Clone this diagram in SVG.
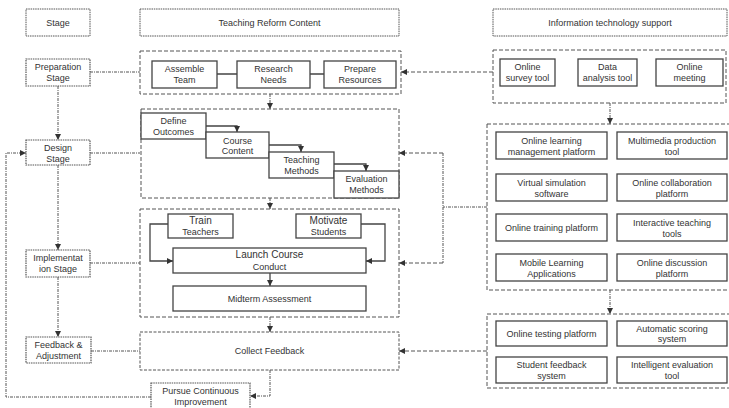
<svg xmlns="http://www.w3.org/2000/svg" width="729" height="408" viewBox="0 0 729 408">
<defs>
<style>
text{font-family:"Liberation Sans","Noto Sans",sans-serif;font-size:9px;fill:#333;text-anchor:middle}
.hdr{fill:#fff;stroke:#555;stroke-width:1;stroke-dasharray:1.5,0.8}
.stg{fill:#fff;stroke:#555;stroke-width:1.2;stroke-dasharray:1.5,0.8}
.box{fill:#fff;stroke:#444;stroke-width:1.3}
.grp{fill:none;stroke:#555;stroke-width:1;stroke-dasharray:4,2}
.grp2{fill:none;stroke:#555;stroke-width:1;stroke-dasharray:3,1.5}
.c{fill:none;stroke:#555;stroke-width:1;stroke-dasharray:3,1,1,1}
.cd{fill:none;stroke:#555;stroke-width:1;stroke-dasharray:4,2}
.s{fill:none;stroke:#444;stroke-width:1.3}
.big{font-size:10px}
</style>
<marker id="a" viewBox="0 0 10 10" refX="10" refY="5" markerWidth="6" markerHeight="6" orient="auto" markerUnits="userSpaceOnUse">
<path d="M0,0 L10,5 L0,10 z" fill="#333"/>
</marker>
</defs>

<g id="connectors">
<path class="c" d="M58,86 V140" marker-end="url(#a)"/>
<path class="c" d="M58,165 V250" marker-end="url(#a)"/>
<path class="c" d="M58,277 V337" marker-end="url(#a)"/>
<path class="c" d="M90,72 H140"/>
<path class="c" d="M90,153 H140"/>
<path class="c" d="M90,263 H140"/>
<path class="c" d="M91,351 H140"/>
<path class="c" d="M151,397 H6 V153 H26" marker-end="url(#a)"/>
<path class="c" d="M270,94 V109" marker-end="url(#a)"/>
<path class="c" d="M270,198 V209" marker-end="url(#a)"/>
<path class="c" d="M270,317 V332" marker-end="url(#a)"/>
<path class="c" d="M270,370 V396 H250" marker-end="url(#a)"/>
<path class="s" d="M206,126 H237 V132" marker-end="url(#a)"/>
<path class="s" d="M269,145 H301 V152" marker-end="url(#a)"/>
<path class="s" d="M334,164 H366 V171" marker-end="url(#a)"/>
<path class="s" d="M168,224 H150 V261 H173" marker-end="url(#a)"/>
<path class="s" d="M361,224 H385 V261 H366" marker-end="url(#a)"/>
<path class="s" d="M270,273 V286" marker-end="url(#a)"/>
<path class="s" d="M217,74 H237 M310,74 H324"/>
<path class="cd" d="M493,72 H401" marker-end="url(#a)"/>
<path class="c" d="M610,103 V124" marker-end="url(#a)"/>
<path class="c" d="M610,290 V314" marker-end="url(#a)"/>
<path class="c" d="M487,207 H443"/>
<path class="c" d="M443,153 V263"/>
<path class="cd" d="M443,153 H399" marker-end="url(#a)"/>
<path class="cd" d="M443,263 H399" marker-end="url(#a)"/>
<path class="cd" d="M487,351 H399" marker-end="url(#a)"/>
</g>

<g id="header-stage"><rect class="hdr" x="26" y="9" width="64" height="27"/><text x="58" y="26">Stage</text></g>
<g id="header-content"><rect class="hdr" x="140" y="9" width="259" height="27"/><text x="269.5" y="26">Teaching Reform Content</text></g>
<g id="header-it"><rect class="hdr" x="493" y="9" width="234" height="27"/><text x="610" y="26">Information technology support</text></g>

<g id="stage-prep"><rect class="stg" x="26" y="59" width="64" height="27"/><text x="58" y="70">Preparation</text><text x="58" y="81">Stage</text></g>
<g id="stage-design"><rect class="stg" x="26" y="140" width="64" height="25"/><text x="58" y="151">Design</text><text x="58" y="162">Stage</text></g>
<g id="stage-impl"><rect class="stg" x="26" y="250" width="64" height="27"/><text x="58" y="261">Implementat</text><text x="58" y="272">ion Stage</text></g>
<g id="stage-feedback"><rect class="stg" x="26" y="337" width="65" height="26"/><text x="58.5" y="348">Feedback &amp;</text><text x="58.5" y="359">Adjustment</text></g>

<g id="prep-container"><rect class="grp" x="140" y="51" width="261" height="43"/></g>
<g id="assemble-team"><rect class="box" x="152" y="61" width="65" height="27"/><text x="184.5" y="72">Assemble</text><text x="184.5" y="83">Team</text></g>
<g id="research-needs"><rect class="box" x="237" y="61" width="73" height="27"/><text x="273.5" y="72">Research</text><text x="273.5" y="83">Needs</text></g>
<g id="prepare-resources"><rect class="box" x="324" y="61" width="72" height="27"/><text x="360" y="72">Prepare</text><text x="360" y="83">Resources</text></g>

<g id="design-container"><rect class="grp" x="141" y="109" width="258" height="89"/></g>
<g id="define-outcomes"><rect class="box" x="141" y="113" width="65" height="26"/><text x="173.5" y="124">Define</text><text x="173.5" y="135">Outcomes</text></g>
<g id="course-content"><rect class="box" x="206" y="132" width="63" height="26"/><text x="237.5" y="143.5">Course</text><text x="237.5" y="154">Content</text></g>
<g id="teaching-methods"><rect class="box" x="269" y="152" width="65" height="26"/><text x="301.5" y="163">Teaching</text><text x="301.5" y="173.5">Methods</text></g>
<g id="evaluation-methods"><rect class="box" x="334" y="171" width="65" height="27"/><text x="366.5" y="182">Evaluation</text><text x="366.5" y="193">Methods</text></g>

<g id="impl-container"><rect class="grp" x="140" y="209" width="259" height="108"/></g>
<g id="train-teachers"><rect class="box" x="168" y="214" width="65" height="24"/><text class="big" x="200.5" y="224">Train</text><text x="200.5" y="235">Teachers</text></g>
<g id="motivate-students"><rect class="box" x="296" y="214" width="65" height="24"/><text class="big" x="328.5" y="224">Motivate</text><text x="328.5" y="235">Students</text></g>
<g id="launch-course"><rect class="box" x="173" y="248" width="193" height="25"/><text class="big" x="269.5" y="258">Launch Course</text><text x="269.5" y="269.5">Conduct</text></g>
<g id="midterm"><rect class="box" x="173" y="286" width="193" height="25"/><text x="269.5" y="302">Midterm Assessment</text></g>

<g id="collect-feedback"><rect class="grp2" x="140" y="332" width="259" height="38"/><text x="269.5" y="354">Collect Feedback</text></g>
<g id="pursue"><rect class="stg" x="151" y="383" width="99" height="28"/><text x="200.5" y="394">Pursue Continuous</text><text x="200.5" y="405">Improvement</text></g>

<g id="tools-prep"><rect class="grp" x="493" y="50" width="233" height="53"/></g>
<g id="online-survey"><rect class="box" x="500" y="59" width="55" height="27"/><text x="527.5" y="70">Online</text><text x="527.5" y="81">survey tool</text></g>
<g id="data-analysis"><rect class="box" x="578" y="59" width="59" height="27"/><text x="607.5" y="70">Data</text><text x="607.5" y="81">analysis tool</text></g>
<g id="online-meeting"><rect class="box" x="656" y="59" width="67" height="27"/><text x="689.5" y="70">Online</text><text x="689.5" y="81">meeting</text></g>

<g id="tools-design"><rect class="grp" x="487" y="124" width="250" height="166"/></g>
<g id="lms"><rect class="box" x="496" y="132" width="111" height="27"/><text x="551.5" y="144">Online learning</text><text x="551.5" y="155">management platform</text></g>
<g id="multimedia"><rect class="box" x="617" y="132" width="110" height="27"/><text x="672" y="144">Multimedia production</text><text x="672" y="155">tool</text></g>
<g id="virtual-sim"><rect class="box" x="496" y="174" width="111" height="27"/><text x="551.5" y="186">Virtual simulation</text><text x="551.5" y="197">software</text></g>
<g id="collab"><rect class="box" x="617" y="174" width="110" height="27"/><text x="672" y="186">Online collaboration</text><text x="672" y="197">platform</text></g>
<g id="training"><rect class="box" x="496" y="214" width="111" height="27"/><text x="551.5" y="230.5">Online training platform</text></g>
<g id="interactive"><rect class="box" x="617" y="214" width="110" height="27"/><text x="672" y="226">Interactive teaching</text><text x="672" y="237">tools</text></g>
<g id="mobile"><rect class="box" x="496" y="254" width="111" height="27"/><text x="551.5" y="266">Mobile Learning</text><text x="551.5" y="277">Applications</text></g>
<g id="discussion"><rect class="box" x="617" y="254" width="110" height="27"/><text x="672" y="266">Online discussion</text><text x="672" y="277">platform</text></g>

<g id="tools-feedback"><rect class="grp" x="487" y="314" width="250" height="74"/></g>
<g id="testing"><rect class="box" x="496" y="321" width="111" height="25"/><text x="551.5" y="337">Online testing platform</text></g>
<g id="scoring"><rect class="box" x="617" y="321" width="110" height="25"/><text x="672" y="331.5">Automatic scoring</text><text x="672" y="342">system</text></g>
<g id="student-feedback"><rect class="box" x="496" y="357" width="111" height="26"/><text x="551.5" y="368">Student feedback</text><text x="551.5" y="379">system</text></g>
<g id="intelligent"><rect class="box" x="617" y="357" width="110" height="26"/><text x="672" y="368">Intelligent evaluation</text><text x="672" y="379">tool</text></g>
</svg>
